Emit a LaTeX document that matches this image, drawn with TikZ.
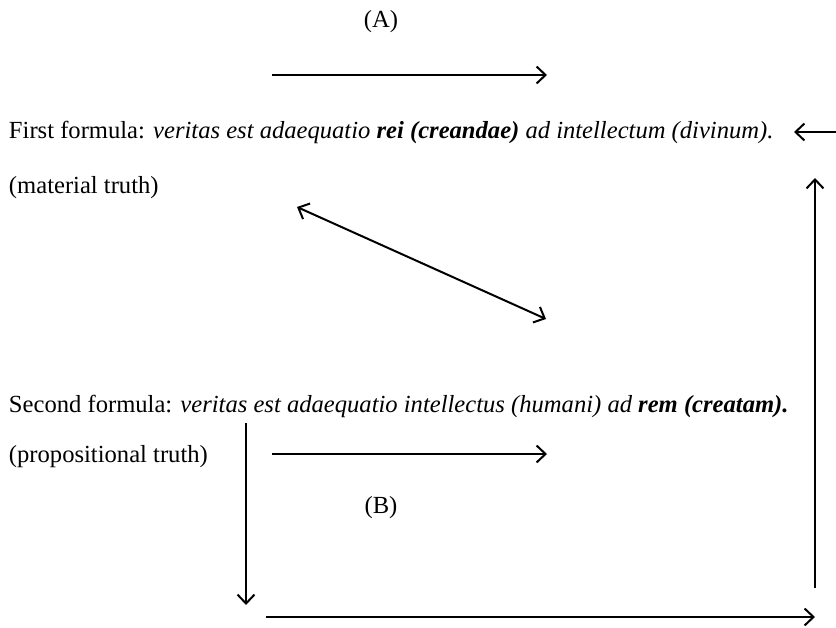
\documentclass[tikz,border=0pt]{standalone}
\usepackage{fontspec}
\setmainfont{Liberation Serif}
\usetikzlibrary{arrows.meta}

\begin{document}
\begin{tikzpicture}[x=1pt, y=-1pt, line width=2pt,
                    >={Straight Barb[length=9pt, width=17pt, line width=2pt]},
                    every node/.style={inner sep=0pt, font=\fontsize{24.6}{29}\selectfont}]
  \useasboundingbox (0,0) rectangle (836,628);

  % Nodes
  \node[anchor=base west] (first) at (8,139)
    {First formula: \textit{veritas est adaequatio \textbf{rei (creandae)} ad intellectum (divinum).}};
  \node[anchor=base west] (material) at (8,194) {(material truth)};
  \node[anchor=base west] (second) at (8,413)
    {Second formula: \textit{veritas est adaequatio intellectus (humani) ad \textbf{rem (creatam).}}};
  \node[anchor=base west] (propositional) at (8,463) {(propositional truth)};
  \node (A) at (381,22) {(A)};
  \node (B) at (381,508) {(B)};

  % Arrow ends
  \coordinate (a1) at (272,75);   \coordinate (a2) at (547,75);
  \coordinate (l1) at (836,132);  \coordinate (l2) at (794,132);
  \coordinate (d1) at (297,207);  \coordinate (d2) at (546,319);
  \coordinate (u1) at (815,588);  \coordinate (u2) at (815,178);
  \coordinate (v1) at (246,423);  \coordinate (v2) at (246,605);
  \coordinate (b1) at (272,454);  \coordinate (b2) at (547,454);
  \coordinate (c1) at (266,617);  \coordinate (c2) at (815,617);

  % Directed Edges
  \draw[->] (a1) -- (a2);
  \draw[->] (l1) -- (l2);
  \draw[<->] (d1) -- (d2);
  \draw[->] (u1) -- (u2);
  \draw[->] (v1) -- (v2);
  \draw[->] (b1) -- (b2);
  \draw[->] (c1) -- (c2);

\end{tikzpicture}
\end{document}
